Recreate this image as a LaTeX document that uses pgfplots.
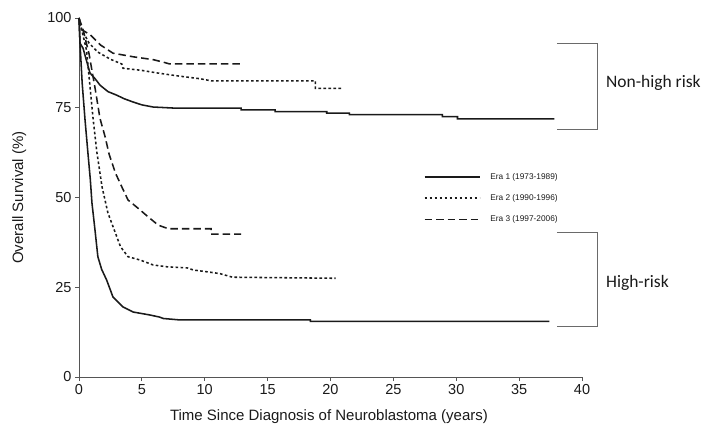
\documentclass[border=0pt]{standalone}
\usepackage{fontspec}
\setmainfont{Liberation Sans}
\newfontfamily\calibri{Carlito}
\usepackage{pgfplots}
\pgfplotsset{compat=1.18}

\definecolor{ink}{HTML}{1A1A1A}
\definecolor{axisgray}{HTML}{555555}
\definecolor{brk}{HTML}{6A6A6A}

\tikzset{
  era1/.style={ink, line width=1.55pt},
  era2/.style={ink, line width=1.55pt, dash pattern=on 2.6pt off 2.4pt},
  era3/.style={ink, line width=1.55pt, dash pattern=on 7.5pt off 4pt},
}

\begin{document}
\begin{tikzpicture}
\path[use as bounding box] (-79pt,-59pt) rectangle (635pt,377pt);
\begin{axis}[
    scale only axis,
    width=503pt, height=359pt,
    xmin=0, xmax=40, ymin=0, ymax=100,
    axis lines=left,
    axis line style={axisgray, line width=0.8pt, -},
    xtick={0,5,...,40}, ytick={0,25,50,75,100},
    tick align=outside, major tick length=4pt,
    tick style={axisgray, line width=0.8pt},
    /pgf/number format/assume math mode=true,
    ticklabel style={font=\fontsize{14.5}{16}\selectfont, text=ink},
    xlabel={Time Since Diagnosis of Neuroblastoma (years)},
    ylabel={Overall Survival (\%)},
    label style={font=\fontsize{15}{17}\selectfont, text=ink},
    xlabel style={at={(axis description cs:0.497,-0.1198)}, anchor=base},
    ylabel style={at={(axis description cs:-0.119,0.5)}, anchor=center},
    clip=false,
    legend style={draw=none, fill=none, at={(axis cs:27.4,57.3)}, anchor=north west,
      font=\fontsize{8.3}{9.5}\selectfont, text=ink, row sep=9.5pt, inner sep=0pt},
    legend cell align=left,
    legend image code/.code={\draw[#1] (0pt,0pt) -- (55pt,0pt); \path (63pt,0pt);},
]

% Non-high risk
\addplot[era1] coordinates {(0,100) (0.08,93) (0.32,91.6) (0.87,84.7) (1.3,83) (1.67,81.3)
  (2.3,79.5) (3,78.5) (3.6,77.5) (4.3,76.6) (5,75.8) (5.9,75.2) (7.6,74.9) (12.9,74.9)
  (12.9,74.4) (15.6,74.4) (15.6,73.9) (19.7,73.9) (19.7,73.5) (21.5,73.5) (21.5,73.1)
  (28.9,73.1) (28.9,72.5) (30.1,72.5) (30.1,71.9) (37.8,71.9)};
\addlegendentry{Era 1 (1973-1989)}
\addplot[era2] coordinates {(0,100) (0.2,97) (0.8,93) (1.5,90.5) (2.5,88.5) (3.4,87.2)
  (3.5,86) (5,85.4) (6.2,84.7) (8,83.8) (9.6,83.1) (10.5,82.5) (18.8,82.5) (18.8,80.4)
  (20.9,80.4)};
\addlegendentry{Era 2 (1990-1996)}
\addplot[era3] coordinates {(0,100) (0.1,97) (0.9,95.3) (1.7,92.5) (2.7,90.2) (4.3,89.2)
  (5.9,88.4) (6.7,87.7) (7.2,87.2) (12.9,87.2)};
\addlegendentry{Era 3 (1997-2006)}

% High risk
\addplot[era1, forget plot] coordinates {(0,100) (0.08,93) (0.25,82) (0.48,71.6) (0.72,62)
  (0.9,55) (1.03,48.5) (1.27,41) (1.5,33.5) (1.8,30) (2.2,27) (2.7,22.3) (3.5,19.5)
  (4.3,18.1) (5.6,17.3) (6.4,16.7) (6.7,16.3) (8,15.9) (18.4,15.9) (18.4,15.5) (37.4,15.5)};
\addplot[era2, forget plot] coordinates {(0,100) (0.2,97) (0.6,91) (0.9,80) (1.13,71.6)
  (1.43,62.4) (1.83,53) (2.3,45.7) (2.8,41) (3.3,36.3) (3.9,33.5) (4.85,32.6) (5.9,31.2)
  (7.0,30.7) (8.6,30.4) (9.1,29.8) (10.4,29.2) (11.2,28.8) (12.2,27.8) (20.4,27.5)};
\addplot[era3, forget plot] coordinates {(0,100) (0.3,97) (0.8,90) (1.3,80) (1.67,72)
  (2.07,67) (2.4,62) (2.9,56.8) (3.4,53) (3.9,49.3) (4.7,47) (5.5,44.6) (6.3,42.3)
  (7.1,41.3) (10.5,41.3) (10.5,39.8) (12.9,39.8)};

% group brackets
\draw[brk, line width=0.8pt] (axis cs:38.0,92.8) -- (axis cs:41.26,92.8) -- (axis cs:41.26,69.1) -- (axis cs:38.0,69.1);
\draw[brk, line width=0.8pt] (axis cs:38.0,40.4) -- (axis cs:41.26,40.4) -- (axis cs:41.26,14.2) -- (axis cs:38.0,14.2);
\node[anchor=west, inner sep=0pt, font=\calibri\fontsize{17.5}{19}\selectfont, text=ink] at (axis cs:41.9,81.9) {Non-high risk};
\node[anchor=west, inner sep=0pt, font=\calibri\fontsize{17.5}{19}\selectfont, text=ink] at (axis cs:41.9,26.2) {High-risk};
\end{axis}
\end{tikzpicture}
\end{document}
